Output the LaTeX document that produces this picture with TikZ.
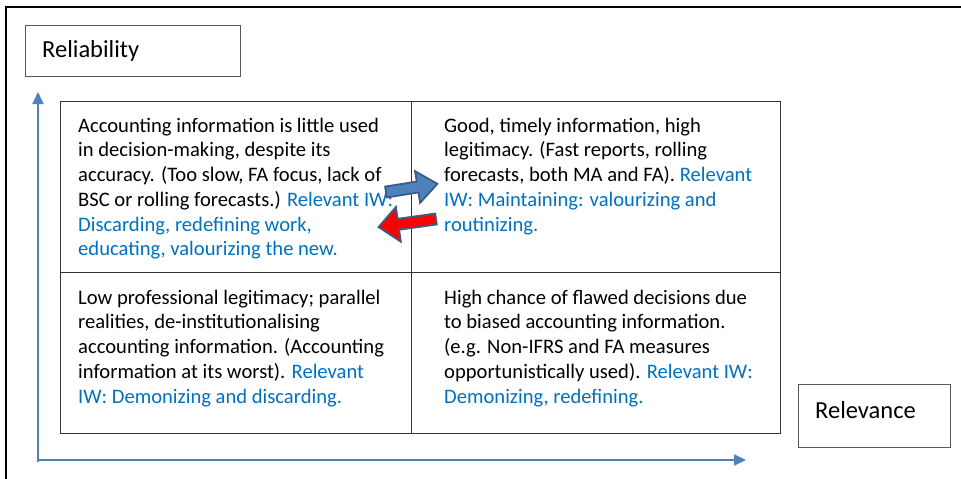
\documentclass[tikz,border=0pt]{standalone}
\usepackage{fontspec}
\setmainfont{Carlito}
\usetikzlibrary{arrows.meta}
\definecolor{iwblue}{HTML}{0070C0}
\definecolor{axisblue}{HTML}{4F81BD}
\definecolor{arrowedge}{HTML}{385D8A}
\begin{document}
\begin{tikzpicture}[x=1pt,y=-1pt,
  celltext/.style={anchor=base west,align=left,inner sep=0pt,font=\fontsize{20.6}{24.75}\selectfont,text=black},
  labelbox/.style={draw=black!65,line width=1pt,inner sep=0pt},
  labeltext/.style={anchor=west,inner sep=0pt,font=\fontsize{24.5}{28}\selectfont},
  gridline/.style={draw=black!80,line width=0.9pt},
  axis/.style={draw=axisblue,line width=2pt,-{Triangle[length=12pt,width=11pt]}},
  flowarrow/.style={draw=arrowedge,line width=1.8pt,line join=miter}
]
\useasboundingbox (0,0) rectangle (961,479);
% outer frame (cut off at right and bottom)
\draw[line width=2.5pt,black] (961,7) -- (6,7) -- (6,479);
% label boxes
\node[labelbox,minimum width=215pt,minimum height=51pt,anchor=north west] (relbox) at (25,25) {};
\node[labeltext] (reltext) at (42,51) {Reliability};
\node[labelbox,minimum width=152pt,minimum height=63pt,anchor=north west] (revbox) at (798,384) {};
\node[labeltext] (revtext) at (815,410) {Relevance};
% axes
\coordinate (origin) at (38,462);
\coordinate (ytip) at (38,92);
\coordinate (xorigin) at (37,460);
\coordinate (xtip) at (746,460);
\draw[axis] (origin) -- (ytip);
\draw[axis] (xorigin) -- (xtip);
% grid
\draw[gridline] (60,101) rectangle (780,433);
\draw[gridline] (411,101) -- (411,433);
\draw[gridline] (60,272) -- (780,272);
% cell texts (anchored at the baseline of the last line)
\node[celltext] (tl) at (78,255.75) {Accounting information is little used\\in decision-making, despite its\\accuracy. (Too slow, FA focus, lack of\\BSC or rolling forecasts.) \textcolor{iwblue}{Relevant IW:}\\\textcolor{iwblue}{Discarding, redefining work,}\\\textcolor{iwblue}{educating, valourizing the new.}};
\node[celltext] (tr) at (444,231) {Good, timely information, high\\legitimacy. (Fast reports, rolling\\forecasts, both MA and FA). \textcolor{iwblue}{Relevant}\\\textcolor{iwblue}{IW: Maintaining: valourizing and}\\\textcolor{iwblue}{routinizing.}};
\node[celltext] (bl) at (78,403) {Low professional legitimacy; parallel\\realities, de-institutionalising\\accounting information. (Accounting\\information at its worst). \textcolor{iwblue}{Relevant}\\\textcolor{iwblue}{IW: Demonizing and discarding.}};
\node[celltext] (br) at (444,403) {High chance of flawed decisions due\\to biased accounting information.\\(e.g. Non-IFRS and FA measures\\opportunistically used). \textcolor{iwblue}{Relevant IW:}\\\textcolor{iwblue}{Demonizing, redefining.}};
% flow arrows
\begin{scope}[shift={(386,192)},rotate=9]
\draw[flowarrow,fill=axisblue] (0,-5.5) -- (32,-5.5) -- (32,-16) -- (52,0) -- (32,16) -- (32,5.5) -- (0,5.5) -- cycle;
\end{scope}
\begin{scope}[shift={(436,219)},rotate=188]
\draw[flowarrow,fill=red] (0,-5.5) -- (38,-5.5) -- (38,-17.5) -- (58,0) -- (38,17.5) -- (38,5.5) -- (0,5.5) -- cycle;
\end{scope}
\end{tikzpicture}
\end{document}
